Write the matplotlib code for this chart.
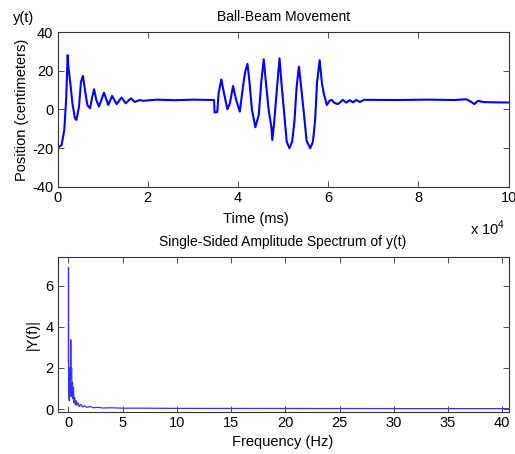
import numpy as np
import matplotlib
matplotlib.use('Agg')
import matplotlib.pyplot as plt

plt.rcParams['font.family'] = ['Liberation Sans', 'DejaVu Sans']
plt.rcParams['axes.unicode_minus'] = False

# ball position, time in ms
t_ms = [0, 200, 900, 1500, 1900, 2250, 2400, 2840, 3300, 3870, 4200, 4760, 5200, 5640,
        6080, 6600, 7200, 7700, 8100, 8600, 9180, 10300, 11250, 12100, 13100, 14200,
        15100, 16260, 17100, 18250, 19000,
        22000, 26000, 30000, 34700,
        34800, 35400, 35700, 36300, 36900, 37650, 38200, 38900, 39600, 40400, 41100,
        41600, 42100, 42500, 43100, 43850, 44600, 45200, 45700, 46200, 46800, 47400,
        47600, 48000, 48600, 49200, 49700, 50300, 50800, 51400, 52000, 52500, 53000,
        53500, 54000, 54600, 55200, 56000, 56600, 57100, 57500, 58100, 58600, 59000,
        59700, 60300, 60800, 61300, 62100, 62800, 63200, 64000, 64800, 65500, 66200,
        67000, 68000,
        75000, 82000, 88000, 90600, 91500, 92400, 93200, 94500, 100000]
pos_cm = [-19.8, -19.6, -18.4, -10.6, 4.9, 28.2, 22.2, 13.6, 3.2, -4.6, -5.4, 1.5, 14.4, 17.4,
          10.1, 2.3, 0.6, 6.6, 10.5, 4.9, 1.5, 8.7, 2.3, 7.0, 2.8, 6.2,
          3.2, 5.8, 3.9, 4.9, 4.5,
          5.1, 4.8, 5.1, 4.9,
          -1.6, -1.3, 8.4, 15.6, 8.4, 0.1, 3.2, 12.2, 4.9, -1.1, 11.8,
          19.6, 23.6, 15.3, -0.3, -9.2, -2.8, 15.3, 26.0, 13.6, -0.3, -9.2,
          -15.8, -7.2, 10.1, 26.5, 11.8, -3.7, -16.7, -20.1, -16.7, -6.3, 11.8,
          22.2, 11.8, -2.0, -16.2, -20.1, -16.7, -5.4, 13.6, 25.6, 13.6, 8.4,
          2.3, 4.6, 4.9, 3.5, 2.8, 4.0, 5.0, 3.6, 4.8, 3.7, 4.9,
          3.9, 5.0,
          4.9, 5.1, 4.9, 5.3, 4.2, 2.8, 4.5, 3.8, 3.6]

# single-sided spectrum
freq_hz = [0.0, 0.012, 0.03, 0.06, 0.09, 0.12, 0.17, 0.22, 0.26, 0.30, 0.34, 0.38, 0.43,
           0.47, 0.52, 0.58, 0.65, 0.72, 0.80, 0.90, 1.0, 1.15, 1.3, 1.5, 1.7, 2.0, 2.3,
           2.7, 3.2, 4.0, 5.0, 7.0, 10, 20, 30, 40.6]
amp = [2.3, 6.88, 0.5, 2.0, 0.4, 1.2, 0.6, 3.36, 1.5, 2.0, 0.6, 1.3, 0.5,
       1.05, 0.3, 0.55, 0.2, 0.4, 0.18, 0.3, 0.12, 0.22, 0.1, 0.16, 0.08, 0.12, 0.06,
       0.08, 0.05, 0.06, 0.04, 0.04, 0.03, 0.025, 0.02, 0.02]

fig = plt.figure(figsize=(5.15, 4.54), dpi=100)
ax1 = fig.add_axes([0.1117, 0.5888, 0.9878 - 0.1117, 0.9289 - 0.5888])
ax2 = fig.add_axes([0.1117, 0.0932, 0.9878 - 0.1117, 0.4346 - 0.0932])

ax1.plot(t_ms, pos_cm, color='#0000ff', lw=1.5)
ax1.set_xlim(0, 100000)
ax1.set_ylim(-40, 40)
ax1.set_xticks([0, 20000, 40000, 60000, 80000, 100000])
ax1.set_xticklabels(['0', '2', '4', '6', '8', '10'])
ax1.set_yticks([-40, -20, 0, 20, 40])
ax1.set_title('Ball-Beam Movement', fontsize=10, pad=8)
ax1.set_ylabel('Position (centimeters)', fontsize=10.5, labelpad=2)

ax2.plot(freq_hz, amp, color='#3333ff', lw=0.9)
ax2.set_xlim(-1.0, 40.6)
ax2.set_ylim(-0.13, 7.4)
ax2.set_xticks(range(0, 41, 5))
ax2.set_yticks([0, 2, 4, 6])
ax2.set_title('Single-Sided Amplitude Spectrum of y(t)', fontsize=10, pad=8)
ax2.set_xlabel('Frequency (Hz)', fontsize=10.5, labelpad=4)
ax2.set_ylabel('|Y(f)|', fontsize=10.5, labelpad=4)

for ax in (ax1, ax2):
    ax.tick_params(direction='in', length=4, width=0.6, top=True, right=True,
                   labelsize=10.5, pad=3, color='#333333')
    for s in ax.spines.values():
        s.set_linewidth(0.8)
        s.set_color('#333333')

# xlabel of the top plot sits left of centre in the original
fig.text(256 / 515, 1 - 219 / 454, 'Time (ms)', fontsize=10.5, ha='center', va='center')
fig.text(24 / 515, 1 - 18 / 454, 'y(t)', fontsize=10.5, ha='center', va='center')
fig.text(505 / 515, 1 - 228 / 454, r'x 10$^{\mathregular{4}}$', fontsize=10.5, ha='right', va='center')

fig.savefig('out.png', dpi=100)
